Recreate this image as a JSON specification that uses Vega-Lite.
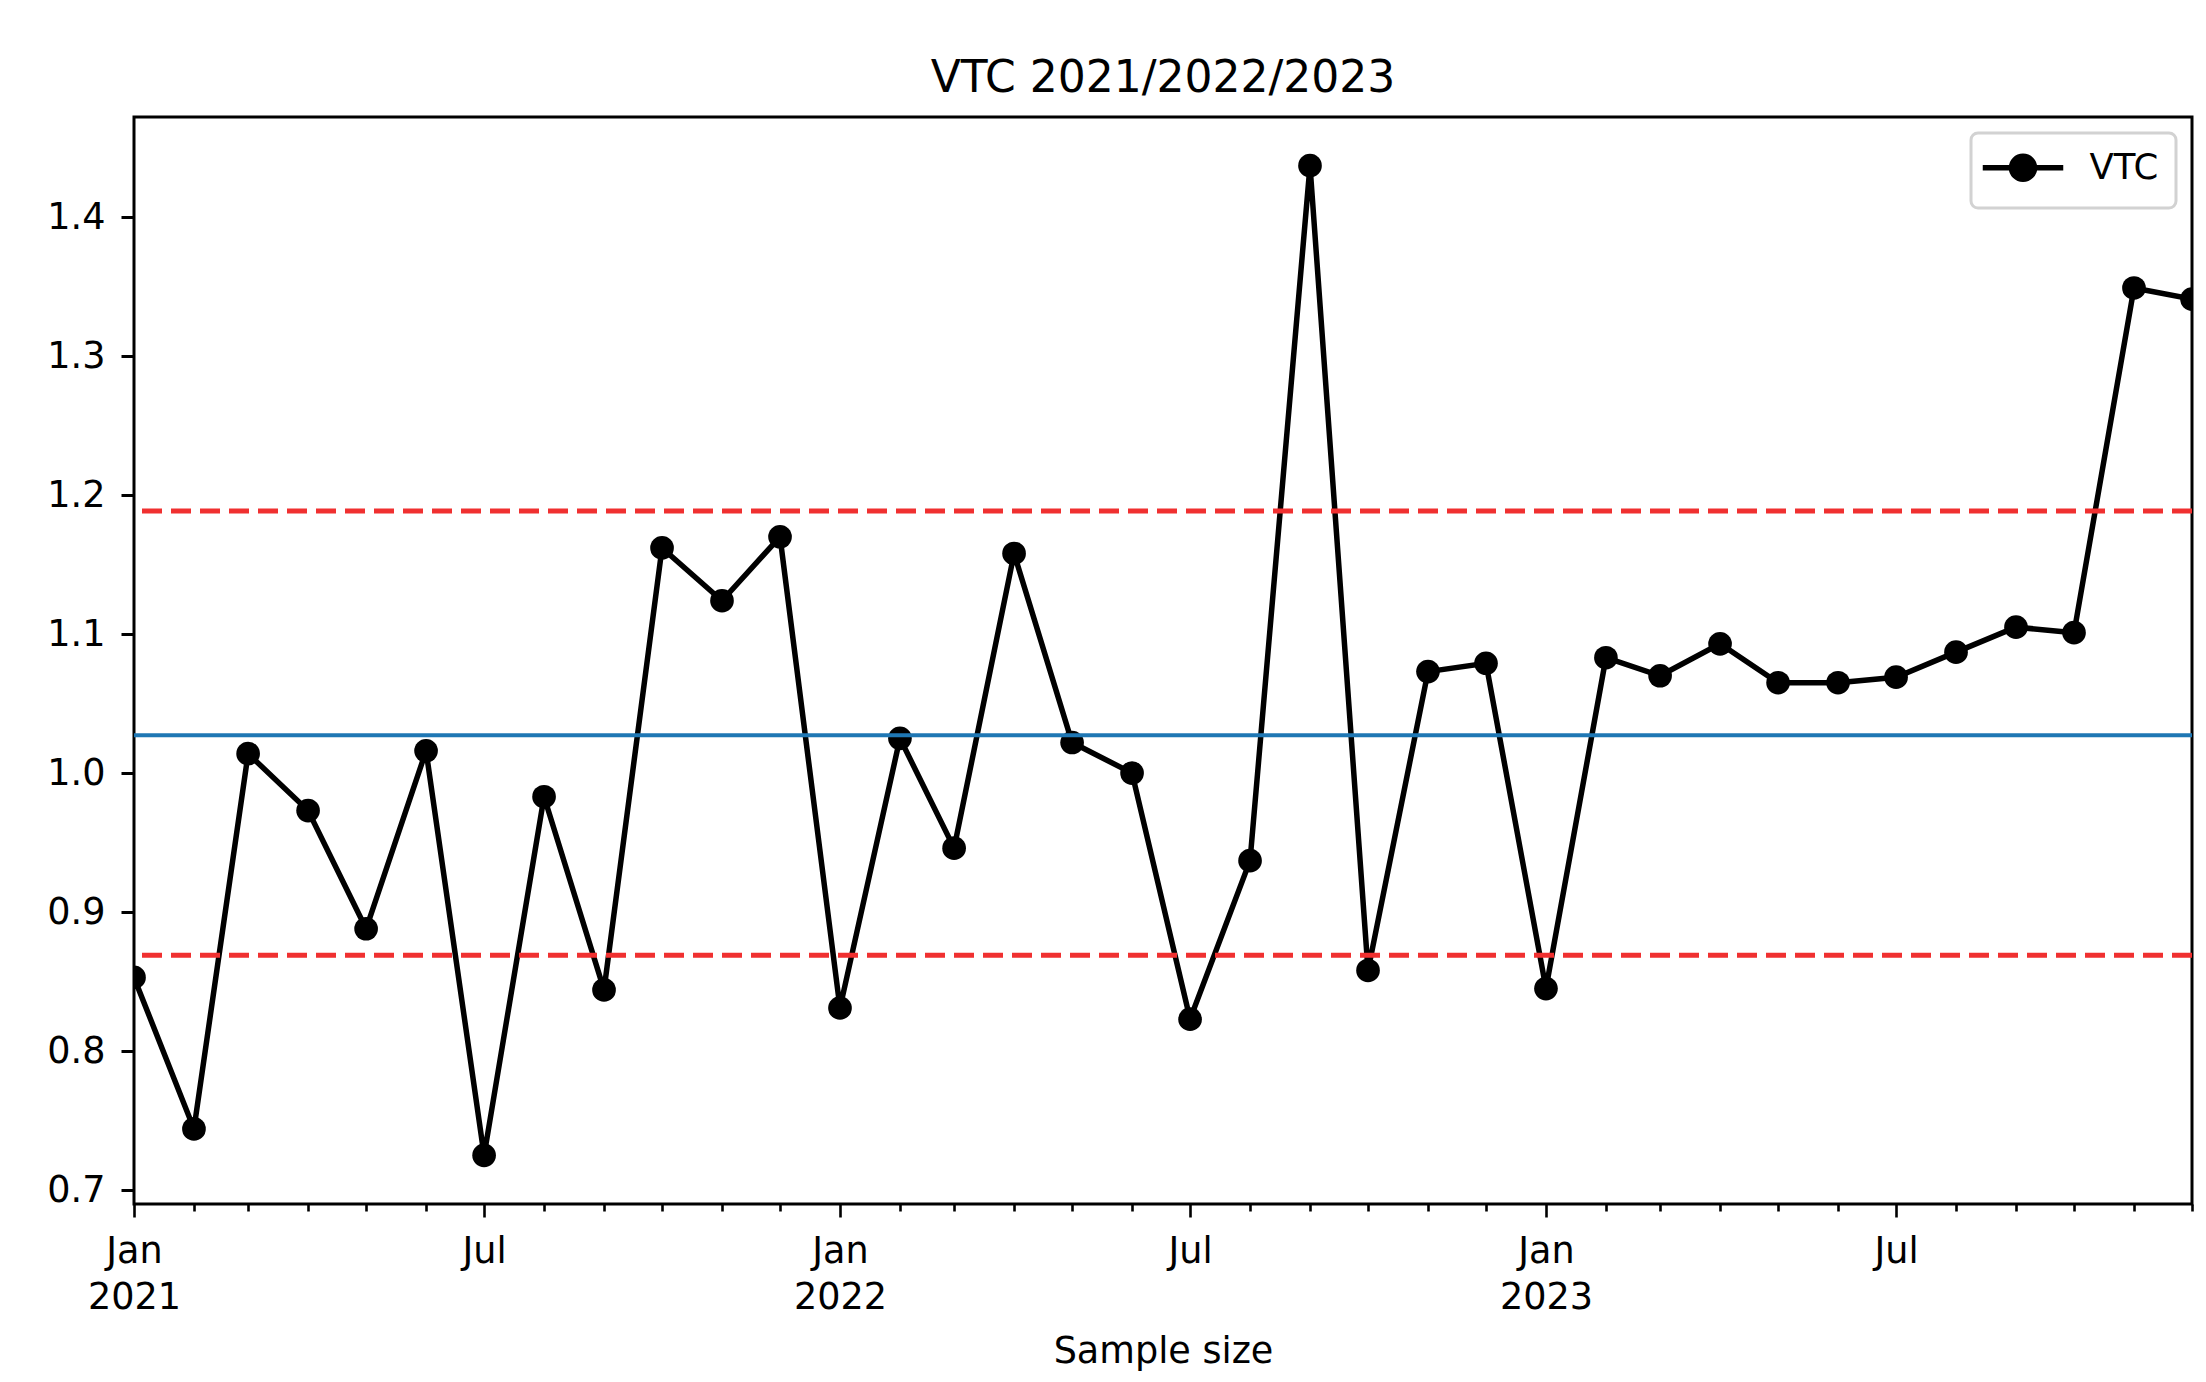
{
  "$schema": "https://vega.github.io/schema/vega-lite/v6.json",
  "width": 2058,
  "height": 1087,
  "autosize": {"type": "none"},
  "padding": {"left": 134, "top": 117, "right": 14, "bottom": 178},
  "background": "white",
  "config": {
    "view": {"stroke": "black", "strokeWidth": 3},
    "font": "DejaVu Sans",
    "axis": {
      "grid": false,
      "domain": false,
      "tickColor": "black",
      "labelColor": "black",
      "titleColor": "black",
      "labelFont": "DejaVu Sans",
      "titleFont": "DejaVu Sans",
      "labelFontSize": 36.6,
      "titleFontSize": 36.6,
      "titleFontWeight": "normal"
    }
  },
  "title": {
    "text": "VTC 2021/2022/2023",
    "fontSize": 44,
    "font": "DejaVu Sans",
    "fontWeight": "normal",
    "color": "black",
    "anchor": "middle",
    "baseline": "alphabetic",
    "offset": -19
  },
  "layer": [
    {
      "data": {
        "values": [
          {"date": "2021-01-01", "value": 0.853},
          {"date": "2021-02-01", "value": 0.744},
          {"date": "2021-03-01", "value": 1.014},
          {"date": "2021-04-01", "value": 0.973},
          {"date": "2021-05-01", "value": 0.888},
          {"date": "2021-06-01", "value": 1.016},
          {"date": "2021-07-01", "value": 0.725},
          {"date": "2021-08-01", "value": 0.983},
          {"date": "2021-09-01", "value": 0.844},
          {"date": "2021-10-01", "value": 1.162},
          {"date": "2021-11-01", "value": 1.124},
          {"date": "2021-12-01", "value": 1.170},
          {"date": "2022-01-01", "value": 0.831},
          {"date": "2022-02-01", "value": 1.025},
          {"date": "2022-03-01", "value": 0.946},
          {"date": "2022-04-01", "value": 1.158},
          {"date": "2022-05-01", "value": 1.022},
          {"date": "2022-06-01", "value": 1.000},
          {"date": "2022-07-01", "value": 0.823},
          {"date": "2022-08-01", "value": 0.937},
          {"date": "2022-09-01", "value": 1.437},
          {"date": "2022-10-01", "value": 0.858},
          {"date": "2022-11-01", "value": 1.073},
          {"date": "2022-12-01", "value": 1.079},
          {"date": "2023-01-01", "value": 0.845},
          {"date": "2023-02-01", "value": 1.083},
          {"date": "2023-03-01", "value": 1.070},
          {"date": "2023-04-01", "value": 1.093},
          {"date": "2023-05-01", "value": 1.065},
          {"date": "2023-06-01", "value": 1.065},
          {"date": "2023-07-01", "value": 1.069},
          {"date": "2023-08-01", "value": 1.087},
          {"date": "2023-09-01", "value": 1.105},
          {"date": "2023-10-01", "value": 1.101},
          {"date": "2023-11-01", "value": 1.349},
          {"date": "2023-12-01", "value": 1.341}
        ]
      },
      "mark": {
        "type": "line",
        "strokeWidth": 5.5,
        "clip": true,
        "point": {"filled": true, "size": 560}
      },
      "encoding": {
        "x": {
          "field": "date",
          "type": "temporal",
          "scale": {
            "type": "utc",
            "domain": [
              {"year": 2021, "month": 1, "date": 1, "utc": true},
              {"year": 2023, "month": 12, "date": 1, "utc": true}
            ]
          },
          "axis": {
            "title": "Sample size",
            "tickCount": {"interval": "month", "step": 1},
            "labelExpr": "utcmonth(datum.value) == 0 ? ['Jan', '' + utcyear(datum.value)] : (utcmonth(datum.value) == 6 ? 'Jul' : '')",
            "labelOverlap": false,
            "labelFlush": false,
            "labelBound": false,
            "tickSize": {"condition": {"test": "utcmonth(datum.value) % 6 == 0", "value": 13}, "value": 7},
            "tickWidth": 2.6,
            "labelPadding": 45,
            "labelBaseline": "alphabetic",
            "labelLineHeight": 46,
            "titleBaseline": "alphabetic",
            "titleY": 158
          }
        },
        "y": {
          "field": "value",
          "type": "quantitative",
          "scale": {"domain": [0.69, 1.472], "nice": false, "zero": false},
          "axis": {
            "title": null,
            "values": [0.7, 0.8, 0.9, 1.0, 1.1, 1.2, 1.3, 1.4],
            "format": ".1f",
            "tickSize": 13,
            "tickWidth": 3,
            "labelPadding": 16
          }
        },
        "color": {
          "datum": "VTC",
          "type": "nominal",
          "scale": {"range": ["black"]},
          "legend": {
            "title": null,
            "orient": "top-right",
            "offset": 16,
            "padding": 17,
            "fillColor": "white",
            "strokeColor": "#d2d2d2",
            "cornerRadius": 7,
            "symbolType": "M-2,0L5,0M0.5,0A1,1 0 1,0 2.5,0A1,1 0 1,0 0.5,0Z",
            "symbolSize": 529,
            "symbolStrokeWidth": 5.5,
            "symbolStrokeColor": "black",
            "symbolFillColor": "black",
            "labelFont": "DejaVu Sans",
            "labelFontSize": 35.5,
            "labelColor": "black",
            "labelOffset": 66,
            "encode": {
              "legend": {"update": {"strokeWidth": {"value": 3}}},
              "symbols": {"update": {"fill": {"value": "black"}, "stroke": {"value": "black"}}}
            }
          }
        }
      }
    },
    {
      "data": {"values": [{"kind": "UCL", "value": 1.1885}, {"kind": "LCL", "value": 0.869}]},
      "mark": {"type": "rule", "color": "#f03030", "strokeWidth": 5, "strokeDash": [20, 9]},
      "encoding": {
        "y": {
          "field": "value",
          "type": "quantitative",
          "scale": {"domain": [0.69, 1.472], "nice": false, "zero": false}
        }
      }
    },
    {
      "data": {"values": [{"kind": "Mean", "value": 1.0273}]},
      "mark": {"type": "rule", "color": "#1f77b4", "strokeWidth": 4},
      "encoding": {
        "y": {
          "field": "value",
          "type": "quantitative",
          "scale": {"domain": [0.69, 1.472], "nice": false, "zero": false}
        }
      }
    }
  ]
}
